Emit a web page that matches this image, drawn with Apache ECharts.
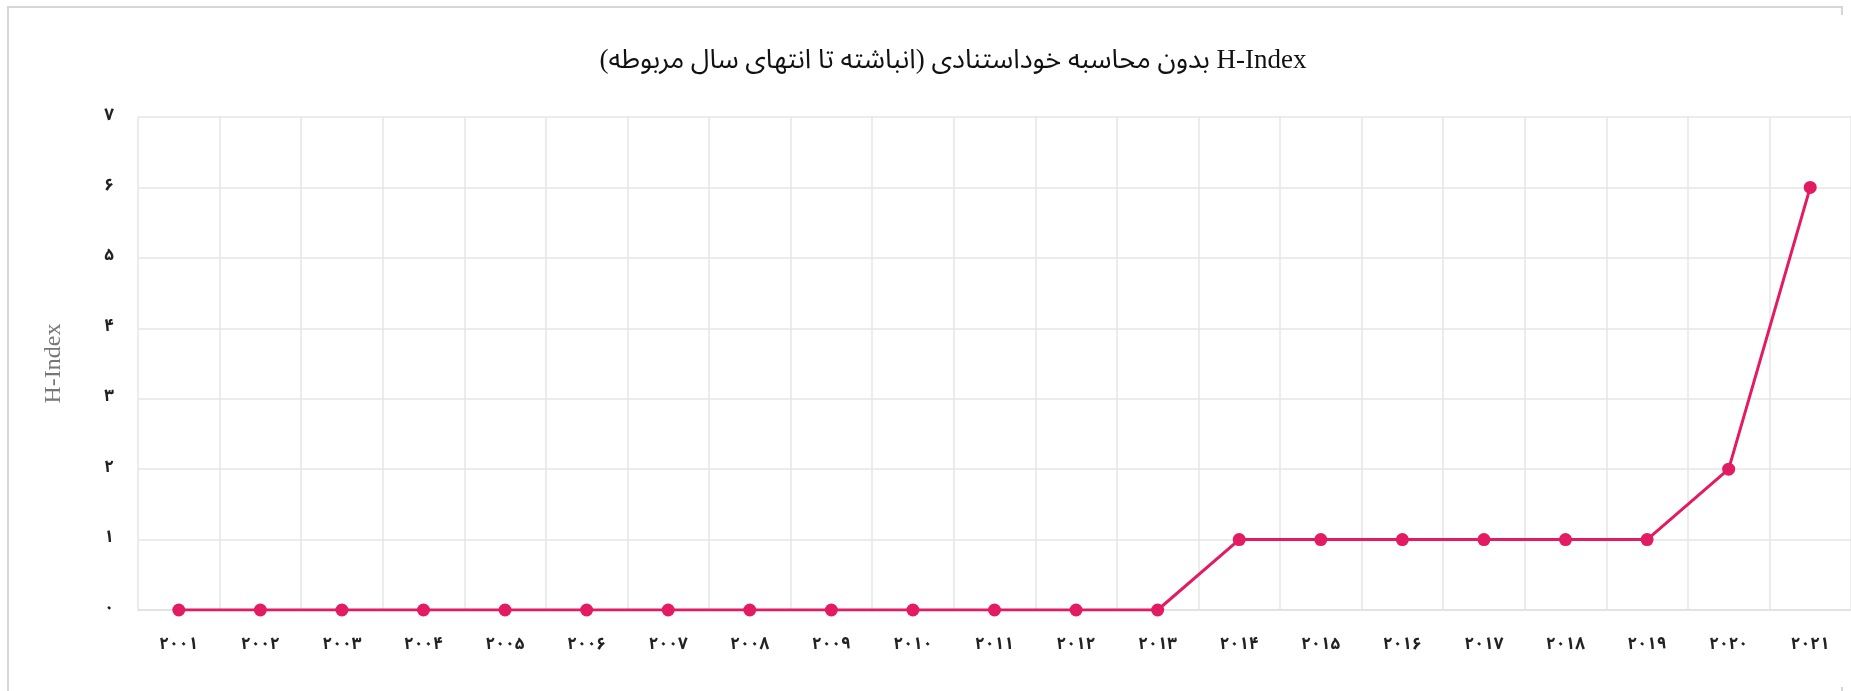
<!DOCTYPE html>
<html>
<head>
<meta charset="utf-8">
<script src="https://cdn.jsdelivr.net/npm/echarts@6/dist/echarts.min.js"></script>
<style>
  html, body { margin: 0; padding: 0; background: #fff; overflow: hidden; }
  #frame { position: absolute; left: 7px; top: 6px; width: 1836px; height: 700px;
           border: 2px solid #d6d6d6; box-sizing: border-box; }
  #chart { position: absolute; left: 9px; top: 15px; width: 1842px; height: 672px; background: #fff; }
</style>
</head>
<body>
<div id="frame"></div>
<div id="chart"></div>
<script>
const titleText = 'H-Index بدون محاسبه خوداستنادی (انباشته تا انتهای سال مربوطه)';
const yAxisName = 'H-Index';
const categories = ['۲۰۰۱','۲۰۰۲','۲۰۰۳','۲۰۰۴','۲۰۰۵','۲۰۰۶','۲۰۰۷','۲۰۰۸','۲۰۰۹','۲۰۱۰',
                    '۲۰۱۱','۲۰۱۲','۲۰۱۳','۲۰۱۴','۲۰۱۵','۲۰۱۶','۲۰۱۷','۲۰۱۸','۲۰۱۹','۲۰۲۰','۲۰۲۱'];
const hIndexValues = [0,0,0,0,0,0,0,0,0,0,0,0,0,1,1,1,1,1,1,2,6];
const yTickLabels = ['۰','۱','۲','۳','۴','۵','۶','۷'];

const faFont = "'Noto Sans Arabic', 'DejaVu Sans'";
const chart = echarts.init(document.getElementById('chart'), null, { renderer: 'canvas' });
chart.setOption({
  backgroundColor: '#fff',
  animation: false,
  title: {
    text: '\u202B' + titleText + '\u202C',
    left: 939,
    textAlign: 'center',
    top: 27,
    textStyle: { fontFamily: "'Liberation Serif', " + faFont, fontSize: 27, fontWeight: 'normal', color: '#111' }
  },
  grid: { left: 129, right: -6, top: 102, bottom: 77, containLabel: false },
  xAxis: {
    type: 'category',
    data: categories,
    boundaryGap: true,
    axisLine: { show: true, lineStyle: { color: '#e3e3e3', width: 2 } },
    axisTick: { show: false },
    axisLabel: { margin: 28, color: '#222', fontSize: 17, fontWeight: 'bold', fontFamily: faFont, interval: 0 },
    splitLine: { show: true, lineStyle: { color: '#e6e6e6', width: 1.5 } }
  },
  yAxis: {
    type: 'value',
    min: 0, max: 7, interval: 1,
    name: yAxisName,
    nameLocation: 'middle',
    nameGap: 72,
    nameTextStyle: { fontFamily: "'Liberation Serif'", fontSize: 24, color: '#777' },
    axisLine: { show: false },
    axisTick: { show: false },
    axisLabel: { margin: 24, color: '#222', fontSize: 17, fontWeight: 'bold', fontFamily: faFont,
                 formatter: v => yTickLabels[v] },
    splitLine: { show: true, lineStyle: { color: '#e6e6e6', width: 1.5 } }
  },
  series: [{
    type: 'line',
    data: hIndexValues,
    symbol: 'circle',
    symbolSize: 13,
    itemStyle: { color: '#e21b62' },
    lineStyle: { color: '#e21b62', width: 3 }
  }]
});
</script>
</body>
</html>
